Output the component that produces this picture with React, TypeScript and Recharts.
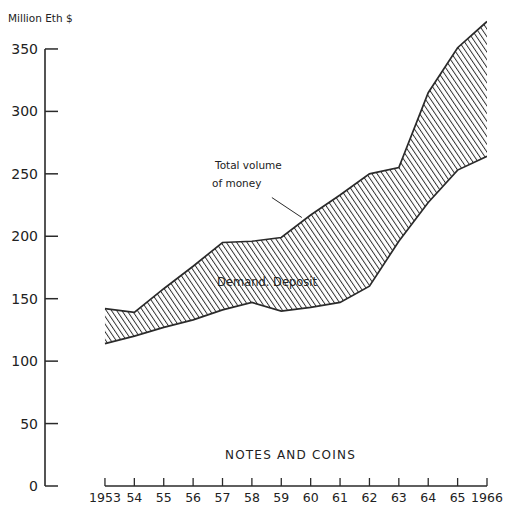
import React from "react";
import {
  ComposedChart,
  Area,
  Line,
  XAxis,
  YAxis,
  ReferenceLine,
} from "recharts";

// values (million Eth $)
const years = [1953, 1954, 1955, 1956, 1957, 1958, 1959, 1960, 1961, 1962, 1963, 1964, 1965, 1966];
const totalMoney = [142, 139, 158, 176, 195, 196, 199, 217, 233, 250, 255, 315, 351, 372];
const notesCoins = [114, 120, 127, 133, 141, 147, 140, 143, 147, 160, 196, 227, 253, 264];
const yTicks = [0, 50, 100, 150, 200, 250, 300, 350];

const X_MIN = 1950.96;
const INK = "#2a2a2a";
const FONT = "DejaVu Sans, sans-serif";

const data = years.map((year, i) => ({
  year,
  total: totalMoney[i],
  notes: notesCoins[i],
  band: [notesCoins[i], totalMoney[i]],
}));

const yearLabel = (y: number) => (y === 1953 || y === 1966 ? String(y) : String(y).slice(2));

function YTick(props: any) {
  const { x, y, payload } = props;
  return (
    <g>
      <line x1={x} y1={y} x2={x + 13} y2={y} stroke={INK} strokeWidth={1.5} />
      <text x={x - 7} y={y + 5} textAnchor="end" fontSize={14} fontFamily={FONT} fill="#222">
        {payload.value}
      </text>
    </g>
  );
}

function XTick(props: any) {
  const { x, y, payload } = props;
  return (
    <g>
      <line x1={x} y1={y} x2={x} y2={y - 8} stroke={INK} strokeWidth={1.3} />
      <text x={x} y={y + 16} textAnchor="middle" fontSize={12.5} fontFamily={FONT} fill="#222">
        {yearLabel(payload.value)}
      </text>
    </g>
  );
}

export default function App() {
  return (
    <div style={{ position: "absolute", left: 0, top: 0, width: 515, height: 515, background: "#fff" }}>
      <ComposedChart
        width={515}
        height={515}
        data={data}
        margin={{ top: 11.5, right: 28, bottom: 0, left: 0 }}
      >
        <defs>
          <pattern id="hatch" patternUnits="userSpaceOnUse" width={4.3} height={10} patternTransform="rotate(-34)">
            <line x1={0} y1={0} x2={0} y2={10} stroke="#2e2e2e" strokeWidth={1.9} />
          </pattern>
        </defs>
        <XAxis
          dataKey="year"
          type="number"
          domain={[X_MIN, 1966]}
          ticks={years}
          allowDataOverflow
          axisLine={false}
          tickLine={false}
          tickSize={0}
          tickMargin={0}
          height={29}
          tick={<XTick />}
          interval={0}
        />
        <YAxis
          type="number"
          domain={[0, 380]}
          ticks={yTicks}
          axisLine={false}
          tickLine={false}
          tickSize={0}
          tickMargin={0}
          width={45}
          tick={<YTick />}
          interval={0}
        />
        <Area
          dataKey="band"
          type="linear"
          fill="url(#hatch)"
          fillOpacity={1}
          stroke="none"
          isAnimationActive={false}
        />
        <Line dataKey="total" type="linear" stroke={INK} strokeWidth={1.7} dot={false} isAnimationActive={false} />
        <Line dataKey="notes" type="linear" stroke={INK} strokeWidth={1.7} dot={false} isAnimationActive={false} />
        <ReferenceLine
          segment={[{ x: X_MIN, y: 0 }, { x: X_MIN, y: 350 }]}
          stroke={INK}
          strokeWidth={1.6}
          ifOverflow="visible"
        />
        <ReferenceLine
          segment={[{ x: 1953, y: 0 }, { x: 1966, y: 0 }]}
          stroke={INK}
          strokeWidth={1.3}
          ifOverflow="visible"
        />
        {/* leader from the label to the total volume line */}
        <ReferenceLine
          segment={[{ x: 1958.68, y: 231 }, { x: 1959.7, y: 215 }]}
          stroke={INK}
          strokeWidth={1}
          ifOverflow="visible"
        />
      </ComposedChart>
      <svg
        width={515}
        height={515}
        style={{ position: "absolute", left: 0, top: 0, pointerEvents: "none" }}
        fontFamily={FONT}
        fill="#222"
      >
        <text x={8} y={22} fontSize={10.5}>Million Eth $</text>
        <text x={215} y={169} fontSize={10.5}>Total volume</text>
        <text x={212} y={187} fontSize={10.5}>of money</text>
        <text x={217} y={286} fontSize={11.5}>Demand. Deposit</text>
        <text x={225} y={459} fontSize={12} letterSpacing={1.2}>NOTES AND COINS</text>
      </svg>
    </div>
  );
}
